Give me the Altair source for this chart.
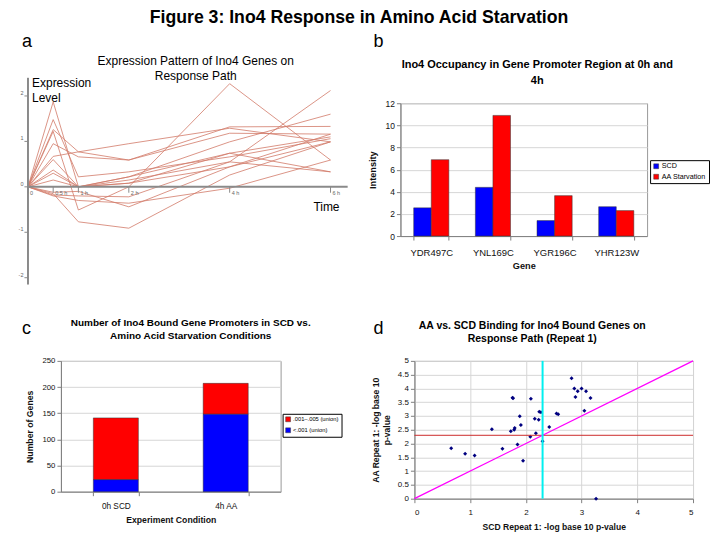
import altair as alt
import pandas as pd

FONT = "Liberation Sans"

# ---------------- Panel a data ----------------
times = [0, 0.5, 1, 2, 4, 6]
time_labels = ["0", "0.5 h", "1 h", "2 h", "4 h", "6 h"]
level_ticks = [-2, -1, 0, 1, 2]
profiles = {
    "g01": [0, 1.87, 0.00, 0.08, 0.74, 1.10],
    "g02": [0, 1.48, 0.22, 0.33, 0.66, 1.06],
    "g03": [0, 1.22, -0.51, 0.00, 2.27, 0.59],
    "g04": [0, 1.26, 0.77, 0.59, 1.32, 1.33],
    "g05": [0, 0.95, 0.66, 0.59, 1.18, 1.16],
    "g06": [0, 0.67, 0.77, 0.95, 1.29, 0.99],
    "g07": [0, 0.60, 0.00, 0.22, 0.99, 1.60],
    "g08": [0, 0.37, 0.00, 0.15, 0.55, 0.33],
    "g09": [0, 0.15, 0.00, 0.08, 0.44, 0.99],
    "g10": [0, -0.18, -0.20, -0.22, 0.55, 2.12],
    "g11": [0, -0.15, -0.77, -0.91, 0.26, 0.99],
    "g12": [0, -0.20, -0.30, -0.36, -0.03, 0.59],
    "g13": [0, -0.12, -0.10, -0.44, 0.44, 1.16],
    "g14": [0, 0.30, 0.00, 0.22, 0.74, 0.33],
}

# ---------------- Panel b data ----------------
genes = ["YDR497C", "YNL169C", "YGR196C", "YHR123W"]
conds_b = ["SCD", "AA Starvation"]
scd_intensity = [2.55, 4.4, 1.4, 2.65]
aa_intensity = [6.9, 10.9, 3.65, 2.3]

# ---------------- Panel c data ----------------
conds_c = ["0h SCD", "4h AA"]
series_c = [".001\u2013.005 (union)", "<.001 (union)"]
count_mid = [118, 59]     # .001-.005
count_low = [23, 148]     # <.001

# ---------------- Panel d data ----------------
scd_logp = [0.66, 0.91, 1.08, 1.39, 1.58, 1.73, 1.76, 1.77, 1.79, 1.80, 1.85, 1.89,
            1.91, 1.95, 2.08, 2.09, 2.16, 2.18, 2.23, 2.24, 2.27, 2.30, 2.42, 2.55,
            2.58, 2.82, 2.87, 2.89, 2.93, 3.00, 3.05, 3.08, 3.16, 3.26]
aa_logp = [1.83, 1.63, 1.57, 2.52, 1.81, 2.45, 3.66, 3.64, 2.50, 2.56, 1.97, 2.99,
           2.67, 1.38, 2.25, 3.63, 2.90, 2.37, 2.86, 3.15, 3.14, 2.08, 2.60, 3.09,
           3.06, 4.37, 4.00, 3.69, 3.90, 4.00, 3.19, 3.90, 3.65, 0.00]
threshold = 2.3


def note(text, x, y, size, weight="normal", align="left", line_height=None):
    """Annotation text placed relative to a panel's plot origin."""
    kw = dict(font=FONT, fontSize=size, fontWeight=weight, align=align,
              baseline="alphabetic", text=text, color="#000")
    if line_height:
        kw["lineHeight"] = line_height
    return alt.Chart(pd.DataFrame({"k": [0]})).mark_text(**kw).encode(
        x=alt.value(x), y=alt.value(y))


# ================= Panel a =================
rows = []
for g, vals in profiles.items():
    for t, v in zip(times, vals):
        rows.append({"gene": g, "time": t, "level": v})
df_a = pd.DataFrame(rows)

xs_a = alt.Scale(domain=[0.6535, 4.733], nice=False, zero=False)
ys_a = alt.Scale(domain=[-1.083, 1.84], nice=False, zero=False)
AX = "#8a8a8a"

lines_a = alt.Chart(df_a).mark_line(color="#d27a68", strokeWidth=0.8).encode(
    x=alt.X("time:Q", scale=xs_a, axis=None),
    y=alt.Y("level:Q", scale=ys_a, axis=None),
    detail="gene:N",
)
axes_df = pd.DataFrame({"x": [0, 0], "x2": [6.34, 0], "y": [0, -2.15], "y2": [0, 2.4]})
axes_a = alt.Chart(axes_df).mark_rule(color=AX, strokeWidth=2).encode(
    x=alt.X("x:Q", scale=xs_a, axis=None), x2="x2:Q",
    y=alt.Y("y:Q", scale=ys_a, axis=None), y2="y2:Q")
ytk = pd.DataFrame({"v": level_ticks, "x": [-0.07] * 5, "x2": [0] * 5,
                    "lab": [str(v) for v in level_ticks]})
ytick_a = alt.Chart(ytk).mark_rule(color=AX, strokeWidth=1).encode(
    x=alt.X("x:Q", scale=xs_a, axis=None), x2="x2:Q",
    y=alt.Y("v:Q", scale=ys_a, axis=None))
ylab_a = alt.Chart(ytk).mark_text(font=FONT, fontSize=5.5, color="#666", align="right",
                                  baseline="bottom", dx=-1).encode(
    x=alt.X("x:Q", scale=xs_a, axis=None), y=alt.Y("v:Q", scale=ys_a, axis=None), text="lab:N")
xtk = pd.DataFrame({"t": times, "y": [0] * 6, "y2": [-0.13] * 6, "lab": time_labels})
xtick_a = alt.Chart(xtk).mark_rule(color=AX, strokeWidth=1).encode(
    x=alt.X("t:Q", scale=xs_a, axis=None),
    y=alt.Y("y:Q", scale=ys_a, axis=None), y2="y2:Q")
xlab_a = alt.Chart(xtk).mark_text(font=FONT, fontSize=5.5, color="#666", align="left",
                                  baseline="middle", dx=2).encode(
    x=alt.X("t:Q", scale=xs_a, axis=None), y=alt.Y("y2:Q", scale=ys_a, axis=None), text="lab:N")
expr_a = alt.Chart(pd.DataFrame({"x": [0.08], "y": [2.39]})).mark_text(
    font=FONT, fontSize=12, align="left", baseline="top", lineHeight=15,
    text=["Expression", "Level"]).encode(
    x=alt.X("x:Q", scale=xs_a, axis=None), y=alt.Y("y:Q", scale=ys_a, axis=None))
time_a = alt.Chart(pd.DataFrame({"x": [5.66], "y": [-0.33]})).mark_text(
    font=FONT, fontSize=12, align="left", baseline="top", text="Time").encode(
    x=alt.X("x:Q", scale=xs_a, axis=None), y=alt.Y("y:Q", scale=ys_a, axis=None))

panel_a = alt.layer(
    lines_a, axes_a, ytick_a, ylab_a, xtick_a, xlab_a, expr_a, time_a,
    note("a", -39, -56, 18),
    note(["Expression Pattern of Ino4 Genes on", "Response Path"], 135, -38, 12,
         align="center", line_height=15),
).properties(width=206, height=133, view=alt.ViewBackground(stroke="transparent"))

# ================= Panel b =================
df_b = pd.DataFrame({
    "gene": genes * 2,
    "condition": [conds_b[0]] * 4 + [conds_b[1]] * 4,
    "value": scd_intensity + aa_intensity,
})
bars_b = alt.Chart(df_b).mark_bar(stroke="#333", strokeWidth=0.5).encode(
    x=alt.X("gene:N", sort=genes, title="Gene",
            scale=alt.Scale(paddingInner=0.43, paddingOuter=0.215),
            axis=alt.Axis(labelAngle=0, tickBand="extent", labelPadding=7, labelFontSize=9.5,
                          titleFontSize=9.2, titlePadding=5)),
    xOffset=alt.XOffset("condition:N", sort=conds_b),
    y=alt.Y("value:Q", title="Intensity", scale=alt.Scale(domain=[0, 12], nice=False),
            axis=alt.Axis(values=list(range(0, 13, 2)), grid=True, labelFontSize=8.5,
                          titleFontSize=9.2, titlePadding=8, labelOverlap=False)),
    color=alt.Color("condition:N", sort=conds_b,
                    scale=alt.Scale(domain=conds_b, range=["#0000ff", "#ff0000"]),
                    legend=alt.Legend(title=None, orient="none", legendX=250, legendY=57,
                                      strokeColor="#000", padding=2.5, symbolType="square",
                                      symbolSize=24, labelFontSize=7.2, labelFont=FONT,
                                      symbolStrokeWidth=0.5, symbolStrokeColor="#333",
                                      rowPadding=1.5, fillColor="white", labelOffset=2)),
)
panel_b = alt.layer(
    bars_b,
    note("b", -27, -56, 18),
    note(["Ino4 Occupancy in Gene Promoter Region at 0h and", "4h"], 137, -35, 11,
         weight="bold", align="center", line_height=16),
).properties(width=247, height=133)

# ================= Panel c =================
df_c = pd.DataFrame({
    "cond": conds_c * 2,
    "series": [series_c[0]] * 2 + [series_c[1]] * 2,
    "count": count_mid + count_low,
    "stackorder": [1, 1, 0, 0],
})
bars_c = alt.Chart(df_c).mark_bar(stroke="#333", strokeWidth=0.5).encode(
    x=alt.X("cond:N", sort=conds_c, title="Experiment Condition",
            scale=alt.Scale(paddingInner=0.59, paddingOuter=0.295),
            axis=alt.Axis(labelAngle=0, tickBand="extent", labelPadding=6, labelFontSize=8.3,
                          titleFontSize=8.7, titlePadding=6)),
    y=alt.Y("count:Q", stack="zero", title="Number of Genes",
            scale=alt.Scale(domain=[0, 250], nice=False),
            axis=alt.Axis(values=list(range(0, 251, 50)), grid=True, labelFontSize=7.8,
                          titleFontSize=8.7, titlePadding=7, labelOverlap=False)),
    color=alt.Color("series:N", sort=series_c,
                    scale=alt.Scale(domain=series_c, range=["#ff0000", "#0000ff"]),
                    legend=alt.Legend(title=None, orient="none", legendX=222, legendY=53,
                                      strokeColor="#000", padding=2.5, symbolType="square",
                                      symbolSize=24, labelFontSize=5.8, labelFont=FONT,
                                      symbolStrokeWidth=0.5, symbolStrokeColor="#333",
                                      rowPadding=3, fillColor="white", labelOffset=2)),
    order=alt.Order("stackorder:Q"),
)
panel_c = alt.layer(
    bars_c,
    note("c", -39, -27, 18),
    note(["Number of Ino4 Bound Gene Promoters in SCD vs.",
          "Amino Acid Starvation Conditions"], 130, -35, 10,
         weight="bold", align="center", line_height=13),
).properties(width=220, height=131)

# ================= Panel d =================
df_d = pd.DataFrame({"scd": scd_logp, "aa": aa_logp})
xs_d = alt.Scale(domain=[0, 5], nice=False)
ys_d = alt.Scale(domain=[0, 5], nice=False)
x_title_d = "SCD Repeat 1: -log base 10 p-value"
y_title_d = ["AA Repeat 1: -log base 10", "p-value"]
x_axis_d = alt.Axis(values=[0, 1, 2, 3, 4, 5], grid=True, format="~g",
                    labelFontSize=8, titleFontSize=8.6, labelPadding=6, titlePadding=6,
                    labelOverlap=False)
y_axis_d = alt.Axis(values=[i * 0.5 for i in range(11)], grid=True, format="~g",
                    labelFontSize=8, titleFontSize=8.6, titlePadding=6, titleLineHeight=11,
                    labelOverlap=False)


def dx_enc(field):
    return alt.X(f"{field}:Q", scale=xs_d, title=x_title_d, axis=x_axis_d)


def dy_enc(field):
    return alt.Y(f"{field}:Q", scale=ys_d, title=y_title_d, axis=y_axis_d)


pts_d = alt.Chart(df_d).mark_point(shape="diamond", filled=True, color="#000080",
                                   size=16, opacity=1).encode(
    x=dx_enc("scd"), y=dy_enc("aa"))
hline_d = alt.Chart(pd.DataFrame({"y": [threshold]})).mark_rule(
    color="#cc2b2b", strokeWidth=1).encode(y=dy_enc("y"))
vline_d = alt.Chart(pd.DataFrame({"x": [threshold]})).mark_rule(
    color="#00f0f0", strokeWidth=2).encode(x=dx_enc("x"))
diag_d = alt.Chart(pd.DataFrame({"x": [0, 5], "y": [0, 5]})).mark_line(
    color="#ff00ff", strokeWidth=1.3).encode(x=dx_enc("x"), y=dy_enc("y"))
panel_d = alt.layer(
    pts_d, hline_d, diag_d, vline_d,
    note("d", -41, -27, 18),
    note(["AA vs. SCD Binding for Ino4 Bound Genes on", "Response Path (Repeat 1)"],
         118, -32, 10.5, weight="bold", align="center", line_height=13),
).properties(width=279, height=138)

row1 = alt.hconcat(panel_a, panel_b, spacing=134, bounds="flush").resolve_scale(
    color="independent").resolve_legend(color="independent")
row2 = alt.hconcat(panel_c, panel_d, spacing=134, bounds="flush").resolve_scale(
    color="independent").resolve_legend(color="independent")

chart = alt.vconcat(row1, row2, spacing=258, bounds="flush").resolve_scale(
    color="independent").resolve_legend(color="independent").properties(
    padding={"left": 10, "top": 0, "right": 0, "bottom": 0},
    title=alt.TitleParams("Figure 3: Ino4 Response in Amino Acid Starvation",
                          font=FONT, fontSize=17.7, fontWeight="bold", anchor="middle",
                          offset=6, dx=-5),
).configure_axis(
    labelFont=FONT, titleFont=FONT, labelFontSize=9, titleFontSize=9,
    labelColor="#111", titleColor="#111", domainColor="#808080", tickColor="#808080",
    gridColor="#d6d6d6", tickSize=4,
).configure_view(stroke="#999999").configure_title(color="#000")

chart.save("out.html", embed_options={"renderer": "svg", "actions": False})
